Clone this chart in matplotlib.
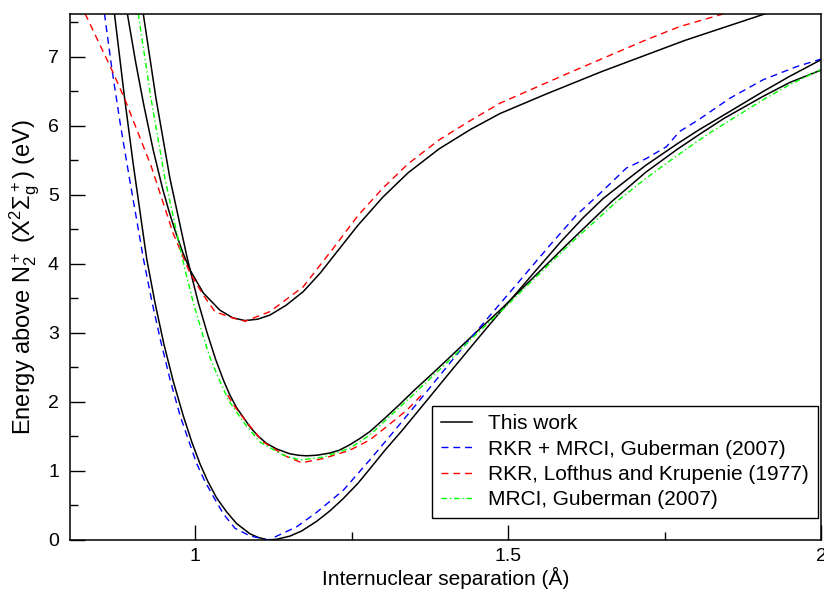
import matplotlib
matplotlib.use('Agg')
import matplotlib.pyplot as plt
from matplotlib.ticker import MultipleLocator

plt.rcParams['font.family'] = ['Liberation Sans', 'DejaVu Sans']
plt.rcParams['mathtext.fontset'] = 'custom'
plt.rcParams['mathtext.rm'] = 'Liberation Sans'
plt.rcParams['mathtext.it'] = 'Liberation Sans:italic'
plt.rcParams['mathtext.bf'] = 'Liberation Sans:bold'

# X state, this work
x_X = [0.871, 0.887, 0.901, 0.9225, 0.936, 0.95, 0.965, 0.981, 0.995, 1.0077, 1.02, 1.0343,
       1.05, 1.066, 1.0875, 1.10, 1.116, 1.13, 1.151, 1.17, 1.194, 1.215, 1.2366, 1.26,
       1.279, 1.305, 1.33, 1.37, 1.407, 1.45, 1.487, 1.54, 1.585, 1.62, 1.652, 1.69, 1.72,
       1.77, 1.806, 1.845, 1.9075, 1.95, 2.0]
E_X = [7.63, 6.42, 5.45, 4.08, 3.43, 2.84, 2.30, 1.80, 1.41, 1.105, 0.853, 0.61,
       0.41, 0.24, 0.09, 0.04, 0.0, 0.01, 0.055, 0.13, 0.27, 0.42, 0.60, 0.82,
       1.03, 1.32, 1.58, 2.02, 2.43, 2.90, 3.30, 3.86, 4.33, 4.67, 4.95, 5.22, 5.43,
       5.74, 5.95, 6.16, 6.50, 6.72, 6.96]

# X state, RKR + MRCI (Guberman 2007)
x_X_rkr = [0.855, 0.8666, 0.88, 0.8948, 0.905, 0.917, 0.931, 0.945, 0.960, 0.976, 0.99,
           1.0023, 1.015, 1.029, 1.045, 1.0636, 1.0875, 1.117, 1.162, 1.194, 1.2366, 1.279,
           1.319, 1.36, 1.412, 1.45, 1.5, 1.5695, 1.6094, 1.6466, 1.689, 1.7212, 1.753,
           1.774, 1.806, 1.854, 1.9075, 1.961, 2.0]
E_X_rkr = [7.63, 6.85, 6.05, 5.25, 4.72, 4.09, 3.45, 2.88, 2.32, 1.80, 1.43,
           1.11, 0.86, 0.63, 0.38, 0.17, 0.06, 0.0, 0.19, 0.40, 0.72, 1.16,
           1.59, 2.04, 2.62, 3.03, 3.56, 4.30, 4.71, 5.02, 5.39, 5.53, 5.70,
           5.92, 6.10, 6.40, 6.67, 6.86, 6.97]

# A state, this work
x_A = [0.917, 0.9374, 0.9597, 0.986, 0.992, 1.005, 1.02, 1.033, 1.045, 1.055, 1.066, 1.0875,
       1.10, 1.114, 1.13, 1.151, 1.165, 1.178, 1.195, 1.215, 1.23, 1.247, 1.263, 1.279,
       1.30, 1.325, 1.35, 1.38, 1.407, 1.45, 1.487, 1.54, 1.596, 1.665, 1.72, 1.77, 1.806,
       1.845, 1.9075, 1.95, 2.0]
E_A = [7.63, 6.40, 5.24, 4.14, 3.91, 3.44, 2.975, 2.61, 2.32, 2.11, 1.92, 1.64,
       1.51, 1.40, 1.32, 1.25, 1.228, 1.22, 1.229, 1.26, 1.30, 1.38, 1.47, 1.57,
       1.74, 1.95, 2.17, 2.42, 2.65, 3.02, 3.33, 3.80, 4.30, 4.90, 5.33, 5.66, 5.88,
       6.11, 6.43, 6.63, 6.81]

# A state, MRCI (Guberman 2007)
x_A_mrci = [0.909, 0.9294, 0.9517, 0.978, 0.984, 0.997, 1.012, 1.025, 1.0396, 1.053, 1.077,
            1.1035, 1.1407, 1.1674, 1.2046, 1.247, 1.279, 1.30, 1.35, 1.407, 1.45, 1.487,
            1.54, 1.60, 1.673, 1.72, 1.77, 1.806, 1.8276, 1.9075, 1.95, 2.0]
E_A_mrci = [7.63, 6.40, 5.24, 4.14, 3.91, 3.44, 2.975, 2.61, 2.30, 2.03, 1.71,
            1.42, 1.23, 1.16, 1.20, 1.33, 1.52, 1.70, 2.12, 2.61, 2.99, 3.30,
            3.77, 4.30, 4.90, 5.24, 5.57, 5.80, 5.93, 6.38, 6.60, 6.82]

# A state, RKR (Lofthus and Krupenie 1977)
x_A_rkr = [1.052, 1.061, 1.082, 1.1088, 1.146, 1.170, 1.2046, 1.247, 1.279, 1.30, 1.338, 1.364]
E_A_rkr = [2.10, 1.96, 1.71, 1.42, 1.21, 1.12, 1.18, 1.30, 1.45, 1.60, 1.88, 2.12]

# B state, this work
x_B = [0.8916, 0.905, 0.918, 0.933, 0.948, 0.958, 0.9677, 0.98, 0.992, 1.013, 1.0396, 1.06,
       1.0796, 1.10, 1.1195, 1.145, 1.1727, 1.20, 1.226, 1.26, 1.30, 1.34, 1.39, 1.44,
       1.487, 1.56, 1.65, 1.7824, 1.912]
E_B = [7.63, 6.92, 6.30, 5.65, 5.09, 4.77, 4.49, 4.17, 3.91, 3.58, 3.33, 3.22,
       3.18, 3.20, 3.26, 3.40, 3.60, 3.87, 4.17, 4.56, 4.97, 5.32, 5.67, 5.95,
       6.18, 6.46, 6.79, 7.24, 7.63]

# B state, RKR (Lofthus and Krupenie 1977)
x_B_rkr = [0.824, 0.867, 0.888, 0.930, 0.965, 0.9917, 1.013, 1.0316, 1.0556, 1.0796, 1.1195,
           1.1727, 1.22, 1.26, 1.30, 1.34, 1.39, 1.44, 1.487, 1.60, 1.721, 1.774, 1.846]
E_B_rkr = [7.63, 6.81, 6.38, 5.41, 4.44, 3.87, 3.55, 3.31, 3.23, 3.17, 3.31,
           3.67, 4.22, 4.70, 5.10, 5.45, 5.80, 6.08, 6.33, 6.78, 7.25, 7.44, 7.63]

fig = plt.figure(figsize=(8.24, 5.95), dpi=100)
ax = fig.add_axes([70 / 824, 55 / 595, 751 / 824, 526 / 595])

ax.plot(x_X, E_X, color='black', lw=1.1, label='This work')
ax.plot(x_A, E_A, color='black', lw=1.1)
ax.plot(x_B, E_B, color='black', lw=1.1)
ax.plot(x_X_rkr, E_X_rkr, color='#0000ff', lw=1.0, dashes=(5, 3.5),
        label='RKR + MRCI, Guberman (2007)')
ax.plot(x_B_rkr, E_B_rkr, color='#ff0000', lw=1.0, dashes=(5, 3.5),
        label='RKR, Lofthus and Krupenie (1977)')
ax.plot(x_A_rkr, E_A_rkr, color='#ff0000', lw=1.0, dashes=(5, 3.5))
ax.plot(x_A_mrci, E_A_mrci, color='#00ff00', lw=1.0, dashes=(4, 2, 1, 2),
        label='MRCI, Guberman (2007)')

ax.set_xlim(0.8, 2.0)
ax.set_ylim(0, 7.623)
ax.xaxis.set_minor_locator(MultipleLocator(0.25))
ax.yaxis.set_major_locator(MultipleLocator(1))
ax.yaxis.set_minor_locator(MultipleLocator(0.5))
ax.set_xticks([1, 1.5, 2])
ax.set_xticklabels(['1', '1.5', '2'])
ax.tick_params(which='major', direction='in', length=11, width=1, labelsize=14,
               top=False, right=False)
ax.tick_params(which='minor', direction='in', length=5.5, width=1, top=False, right=False)
ax.tick_params(axis='y', pad=8)
ax.tick_params(axis='x', pad=6)
for s in ax.spines.values():
    s.set_linewidth(1.1)

ax.set_xlabel('Internuclear separation (Å)', fontsize=15, labelpad=1)
ax.set_ylabel(r'Energy above N$_2^+$ (X$^2\Sigma_\mathrm{g}^+$) (eV)', fontsize=17, labelpad=4)

leg = ax.legend(loc='lower right', bbox_to_anchor=(0.996, 0.042), fontsize=15,
                frameon=True, fancybox=False, edgecolor='black', framealpha=1,
                handlelength=1.5, handletextpad=0.8, labelspacing=0.3, borderpad=0.42,
                borderaxespad=0)
leg.get_frame().set_linewidth(1.0)

fig.savefig('out.png', dpi=100)
